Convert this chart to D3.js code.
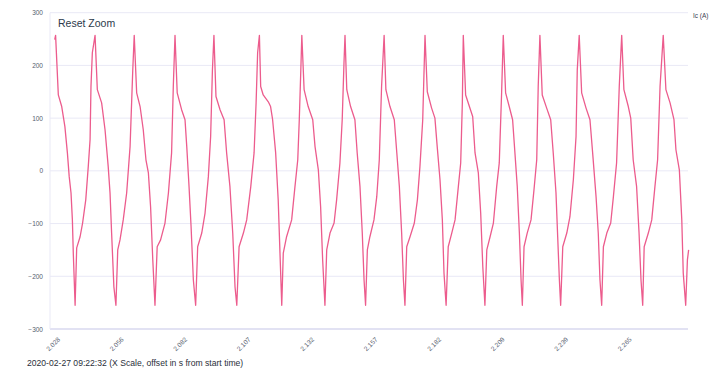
<!DOCTYPE html>
<html>
<head>
<meta charset="utf-8">
<script src="https://cdn.jsdelivr.net/npm/d3@7"></script>
<style>
  body { margin: 0; background: #fff; }
  svg { display: block; font-family: "Liberation Sans", Arial, sans-serif; }
</style>
</head>
<body>
<div id="chart"></div>
<script>
// Ic (A) waveform
// time in s from start, current in A

const times = [
  2.0261,2.0265,2.0277,2.0292,2.0306,2.0317,2.0325,2.0333,2.0339,2.0343,2.0351,2.0358,2.0373,2.0384,2.0398,2.0409,2.0417,2.0421,2.0427,2.0439,
  2.0449,2.0468,2.0483,2.0497,2.0505,2.0512,2.0522,2.0531,2.0539,2.0549,2.0563,2.0577,2.0591,2.0602,2.0608,
  2.0618,2.0632,2.0645,2.0656,2.0666,2.0675,2.0684,2.0693,2.0702,2.0716,2.0734,2.0748,2.0761,2.0768,2.0775,
  2.0784,2.0802,2.0816,2.0823,2.0832,2.0840,2.0849,2.0858,2.0866,2.0882,2.0895,2.0908,2.0917,2.0924,2.0930,
  2.0938,2.0954,2.0970,2.0980,2.0993,2.1004,2.1013,2.1020,2.1029,2.1046,2.1059,2.1075,2.1088,2.1096,2.1102,2.1109,
  2.1114,2.1124,2.1144,2.1153,2.1161,2.1173,2.1183,2.1190,2.1197,2.1203,2.1216,2.1236,2.1249,2.1260,2.1266,2.1272,2.1276,
  2.1285,2.1301,2.1319,2.1328,2.1341,2.1350,2.1358,2.1367,2.1374,2.1387,2.1403,2.1413,2.1426,2.1435,2.1442,2.1446,
  2.1453,2.1468,2.1485,2.1494,2.1505,2.1514,2.1521,2.1527,2.1534,2.1544,2.1560,2.1571,2.1581,2.1590,2.1600,
  2.1607,2.1623,2.1640,2.1650,2.1660,2.1669,2.1676,2.1682,2.1689,2.1702,2.1719,2.1731,2.1741,2.1752,2.1761,
  2.1770,2.1787,2.1800,2.1809,2.1820,2.1830,2.1837,2.1846,2.1855,2.1870,2.1884,2.1898,2.1908,2.1915,2.1919,
  2.1929,2.1945,2.1959,2.1969,2.1983,2.1993,2.2002,2.2011,2.2019,2.2033,2.2047,2.2061,2.2072,2.2082,2.2089,
  2.2100,2.2117,2.2133,2.2144,2.2155,2.2165,2.2173,2.2179,2.2187,2.2202,2.2220,2.2234,2.2247,2.2254,2.2262,
  2.2273,2.2294,2.2313,2.2325,2.2338,2.2346,2.2354,2.2360,2.2370,2.2389,2.2402,2.2416,2.2427,2.2432,2.2440,
  2.2450,2.2468,2.2484,2.2495,2.2509,2.2518,2.2525,2.2532,2.2539,2.2553,2.2569,2.2580,2.2593,2.2604,2.2614,
  2.2623,2.2641,2.2651,2.2661,2.2675,2.2685,2.2693,2.2700,2.2706,2.2723,2.2737,2.2750,2.2761,2.2771,2.2784,
  2.2795,2.2812,2.2828,2.2836,2.2850,2.2860,2.2866,2.2876,2.2883,2.2888
];

const current = [
  249,257,144,122,84,34,-11,-42,-93,-156,-255,-146,-125,-99,-55,8,59,160,224,257,
  154,129,78,8,-42,-118,-220,-255,-150,-131,-93,-42,46,191,257,
  148,122,78,21,-4,-68,-169,-255,-144,-131,-99,-42,34,160,257,
  148,116,97,46,-30,-106,-207,-255,-144,-118,-80,-11,65,191,257,
  141,116,97,34,-30,-118,-220,-255,-144,-118,-93,-30,34,129,224,257,
  160,144,131,122,97,34,-55,-156,-255,-156,-125,-93,-30,21,97,191,257,
  154,122,97,46,2,-68,-169,-255,-150,-118,-99,-55,15,97,205,257,
  154,122,97,34,-30,-118,-207,-255,-150,-125,-93,-49,21,160,257,
  154,122,97,34,-30,-118,-207,-255,-144,-125,-99,-55,8,97,257,
  150,119,100,46,-17,-93,-194,-255,-144,-118,-93,-30,15,129,257,
  144,122,103,34,-4,-80,-182,-255,-150,-125,-99,-30,15,148,257,
  148,122,97,34,-30,-118,-207,-255,-144,-118,-93,-36,21,160,257,
  144,119,97,34,-42,-125,-207,-255,-144,-118,-87,-17,65,191,257,
  148,119,97,34,-49,-118,-207,-255,-144,-118,-99,-49,15,160,257,
  154,122,100,21,-30,-118,-207,-255,-144,-118,-93,-30,21,160,257,
  154,129,97,40,2,-93,-194,-255,-169,-150
];

// shown x ticks (sample times, evenly spaced on a category-like axis)
const xTicks = [2.028, 2.056, 2.082, 2.107, 2.132, 2.157, 2.182, 2.209, 2.239, 2.265];
const yTicks = [-300, -200, -100, 0, 100, 200, 300];

const data = times.map((t, i) => ({ t, v: current[i] }));

const W = 710, H = 369;
const plot = { left: 50, right: 688, top: 12.7, bottom: 329 };
const tickStart = 59, tickStep = 63.5;

const svg = d3.select('#chart').append('svg')
  .attr('width', W).attr('height', H);

// piecewise scale: labelled samples sit at even steps
const x = d3.scaleLinear()
  .domain(xTicks)
  .range(xTicks.map((d, i) => tickStart + i * tickStep));

const y = d3.scaleLinear()
  .domain([-300, 300])
  .range([plot.bottom, plot.top]);

// Grid lines
svg.append('g')
  .selectAll('line')
  .data(yTicks)
  .join('line')
  .attr('x1', plot.left).attr('x2', plot.right)
  .attr('y1', d => y(d)).attr('y2', d => y(d))
  .style('stroke', d => d === -300 ? '#d9d9ef' : '#e9e9f6')
  .style('stroke-width', d => d === -300 ? 1.6 : 1);

svg.append('line')
  .attr('x1', plot.left).attr('x2', plot.left)
  .attr('y1', plot.top).attr('y2', plot.bottom)
  .style('stroke', '#e9e9f6').style('stroke-width', 1);

// Y axis labels
svg.append('g')
  .attr('transform', `translate(${plot.left},0)`)
  .call(d3.axisLeft(y).tickValues(yTicks).tickSize(0).tickPadding(7))
  .call(g => g.select('.domain').remove())
  .call(g => g.selectAll('text')
    .style('font-size', '6.5px').style('fill', '#555c6e').style('font-family', 'Liberation Sans, Arial, sans-serif'));

// X axis labels, rotated
svg.append('g')
  .attr('transform', `translate(0,${plot.bottom})`)
  .call(d3.axisBottom(x).tickValues(xTicks).tickSize(0).tickFormat(d3.format('.3f')))
  .call(g => g.select('.domain').remove())
  .call(g => g.selectAll('text')
    .attr('y', 0).attr('dy', 0)
    .attr('text-anchor', 'end')
    .attr('transform', 'translate(1,11) rotate(-45)')
    .style('font-size', '6.5px').style('fill', '#555c6e').style('font-family', 'Liberation Sans, Arial, sans-serif'));

// Waveform
const line = d3.line()
  .x(d => x(d.t))
  .y(d => y(d.v));

svg.append('path')
  .datum(data)
  .attr('d', line)
  .attr('fill', 'none')
  .attr('stroke', '#ec5c8d')
  .attr('stroke-width', 1.3)
  .attr('stroke-linejoin', 'round');

// Texts
svg.append('text')
  .attr('x', 58).attr('y', 26.5)
  .style('font-size', '10.5px').style('fill', '#2c3a4b')
  .text('Reset Zoom');

svg.append('text')
  .attr('x', 693).attr('y', 18)
  .style('font-size', '6.5px').style('fill', '#3a4050')
  .text('Ic (A)');

svg.append('text')
  .attr('x', 27).attr('y', 366)
  .style('font-size', '8.6px').style('fill', '#2a2f3a')
  .text('2020-02-27 09:22:32 (X Scale, offset in s from start time)');
</script>
</body>
</html>
